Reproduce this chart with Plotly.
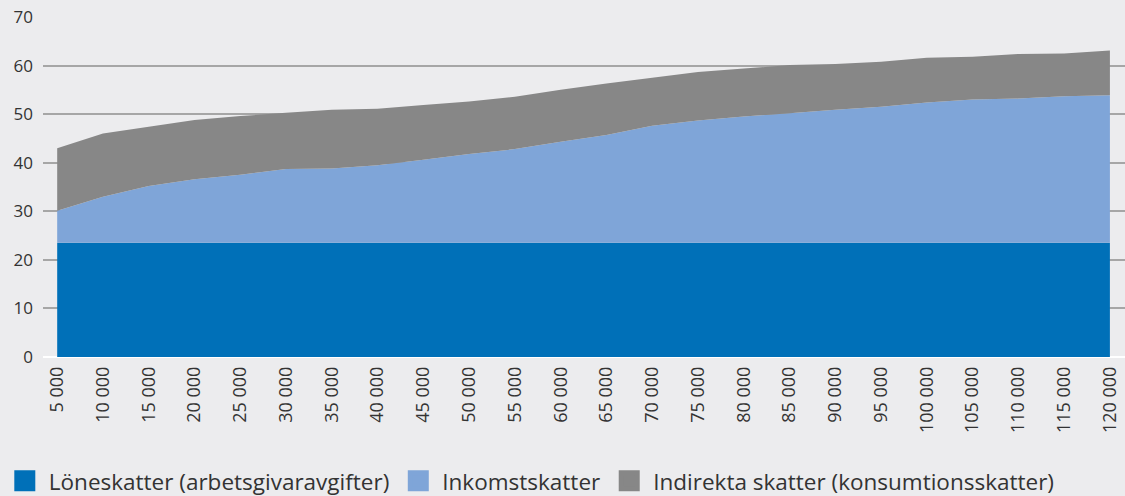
import plotly.graph_objects as go

categories = ["5 000", "10 000", "15 000", "20 000", "25 000", "30 000", "35 000", "40 000",
              "45 000", "50 000", "55 000", "60 000", "65 000", "70 000", "75 000", "80 000",
              "85 000", "90 000", "95 000", "100 000", "105 000", "110 000", "115 000", "120 000"]

loneskatter = [23.5] * 24
inkomstskatter = [6.6, 9.5, 11.7, 13.1, 14.0, 15.2, 15.3, 16.0, 17.1, 18.3, 19.3, 20.8,
                  22.2, 24.1, 25.2, 26.0, 26.7, 27.4, 28.0, 28.9, 29.5, 29.7, 30.2, 30.4]
indirekta = [12.9, 13.0, 12.2, 12.2, 12.1, 11.6, 12.1, 11.6, 11.3, 10.8, 10.8, 10.7,
             10.6, 9.9, 10.0, 9.9, 9.9, 9.4, 9.3, 9.2, 8.8, 9.2, 8.8, 9.2]

names = ["Löneskatter (arbetsgivaravgifter)", "Inkomstskatter",
         "Indirekta skatter (konsumtionsskatter)"]
colors = ["#0070B8", "#7FA5D8", "#878787"]

fig = go.Figure()
for vals, name, col in zip([loneskatter, inkomstskatter, indirekta], names, colors):
    fig.add_trace(go.Scatter(
        x=categories, y=vals, name=name, stackgroup="one", mode="none",
        fillcolor=col, showlegend=False, hoverinfo="x+y+name"))

for name, col in zip(names, colors):
    fig.add_trace(go.Scatter(
        x=[None], y=[None], name=name, mode="markers",
        marker=dict(symbol="square", size=20, color=col, line=dict(color=col, width=5)),
        showlegend=True))

fig.update_layout(
    width=1125, height=496,
    paper_bgcolor="#ECECEE", plot_bgcolor="#ECECEE",
    margin=dict(l=43, r=0, t=17, b=139, autoexpand=False),
    font=dict(family="'Open Sans', Roboto, Arial, sans-serif", size=16, color="#333333"),
    legend=dict(orientation="h", x=-0.039, xanchor="left", y=-0.365, yanchor="middle",
                font=dict(size=22.5, color="#333333"), itemsizing="trace",
                bgcolor="rgba(0,0,0,0)", traceorder="normal", itemwidth=38),
    xaxis=dict(type="category", range=[-0.31, 23.33], tickangle=-90, showgrid=False,
               ticks="", showline=False, zeroline=False, automargin=False,
               tickfont=dict(size=18, color="#333333"), ticklabelstandoff=5),
    yaxis=dict(range=[0, 70], dtick=10, showgrid=True, gridcolor="#A6A6A6", gridwidth=1.5,
               zeroline=True, zerolinecolor="#FFFFFF", zerolinewidth=2, automargin=False,
               showline=False, ticks="", tickfont=dict(size=17, color="#333333"),
               ticklabelstandoff=9),
)

fig.write_html("out.html", config={"displayModeBar": False},
               post_script="document.body.style.margin='0';document.body.style.overflow='hidden';")
